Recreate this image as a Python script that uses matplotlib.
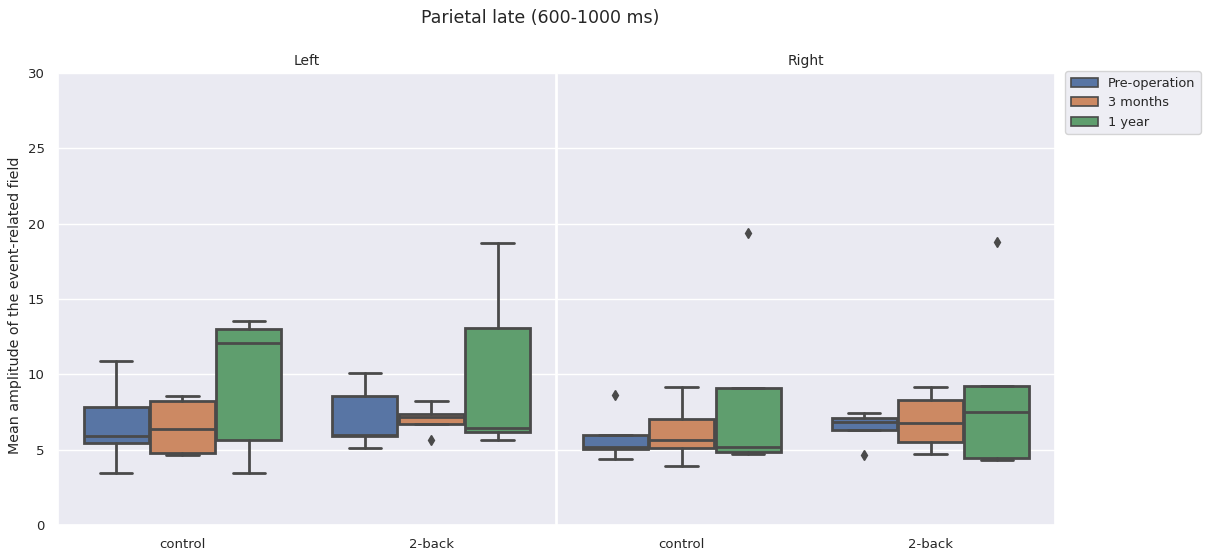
import matplotlib
matplotlib.use("Agg")
import matplotlib.pyplot as plt
from matplotlib.patches import Patch
import seaborn as sns

sns.set_theme(style="darkgrid")
plt.rcParams['font.family'] = ['DejaVu Sans']

sides = ["Left", "Right"]
tasks = ["control", "2-back"]
hues = ["Pre-operation", "3 months", "1 year"]
colors = ["#5875a4", "#cc8963", "#5f9e6e"]
line_gray = "#4a4a4a"

# stats per side -> task -> hue: (whislo, q1, med, q3, whishi, fliers)
stats = {
    "Left": {
        "control": [
            (3.43, 5.42, 5.93, 7.85, 10.88, []),
            (4.67, 4.76, 6.37, 8.23, 8.54, []),
            (3.43, 5.64, 12.08, 12.98, 13.54, []),
        ],
        "2-back": [
            (5.13, 5.93, 5.95, 8.54, 10.09, []),
            (6.68, 6.68, 7.15, 7.35, 8.21, [5.62]),
            (5.64, 6.15, 6.41, 13.09, 18.71, []),
        ],
    },
    "Right": {
        "control": [
            (4.36, 5.02, 5.15, 5.99, 5.99, [8.65]),
            (3.89, 5.09, 5.64, 7.03, 9.18, []),
            (4.71, 4.84, 5.20, 9.11, 9.11, [19.4]),
        ],
        "2-back": [
            (6.30, 6.30, 6.81, 7.08, 7.45, [4.67]),
            (4.71, 5.49, 6.79, 8.29, 9.18, []),
            (4.31, 4.42, 7.50, 9.20, 9.20, [18.8]),
        ],
    },
}

fig, axes = plt.subplots(1, 2, figsize=(12.08, 5.58), dpi=100, sharey=True)
fig.subplots_adjust(left=58/1208, right=1055/1208, top=1-73/558, bottom=1-525/558, wspace=0.003)

bw = 0.8 / 3
for ax, side in zip(axes, sides):
    for ti, task in enumerate(tasks):
        for hi, hue in enumerate(hues):
            lo, q1, med, q3, hi_w, fl = stats[side][task][hi]
            st = [dict(whislo=lo, q1=q1, med=med, q3=q3, whishi=hi_w, fliers=fl)]
            pos = ti + (hi - 1) * bw
            ax.bxp(st, positions=[pos], widths=[bw * 0.98], patch_artist=True,
                   showfliers=True,
                   boxprops=dict(facecolor=colors[hi], edgecolor=line_gray, linewidth=2),
                   medianprops=dict(color=line_gray, linewidth=2),
                   whiskerprops=dict(color=line_gray, linewidth=2),
                   capprops=dict(color=line_gray, linewidth=2),
                   flierprops=dict(marker="d", markerfacecolor=line_gray,
                                   markeredgecolor=line_gray, markersize=5))
    ax.set_xlim(-0.5, 1.5)
    ax.set_xticks(range(len(tasks)))
    ax.set_xticklabels(tasks, fontsize=9.5)
    ax.set_title(side, fontsize=10)
    ax.set_ylim(0, 30)
    ax.set_yticks([0, 5, 10, 15, 20, 25, 30])
    ax.tick_params(axis="y", labelsize=9.5)
    ax.grid(False, axis="x")
    ax.grid(True, axis="y")

axes[0].set_ylabel("Mean amplitude of the event-related field", fontsize=10.3)
axes[0].yaxis.set_label_coords(-0.072, 0.487)
axes[1].tick_params(axis="y", labelleft=False)

fig.suptitle("Parietal late (600-1000 ms)", fontsize=12.5, x=540/1208, y=1-9/558, va="top")

handles = [Patch(facecolor=c, edgecolor=line_gray, linewidth=1.2) for c in colors]
fig.legend(handles, hues, loc="upper left", bbox_to_anchor=(1059/1208, 1-65/558),
           fontsize=9.3, handlelength=2.1, frameon=True)

fig.savefig("out.png", dpi=100)
